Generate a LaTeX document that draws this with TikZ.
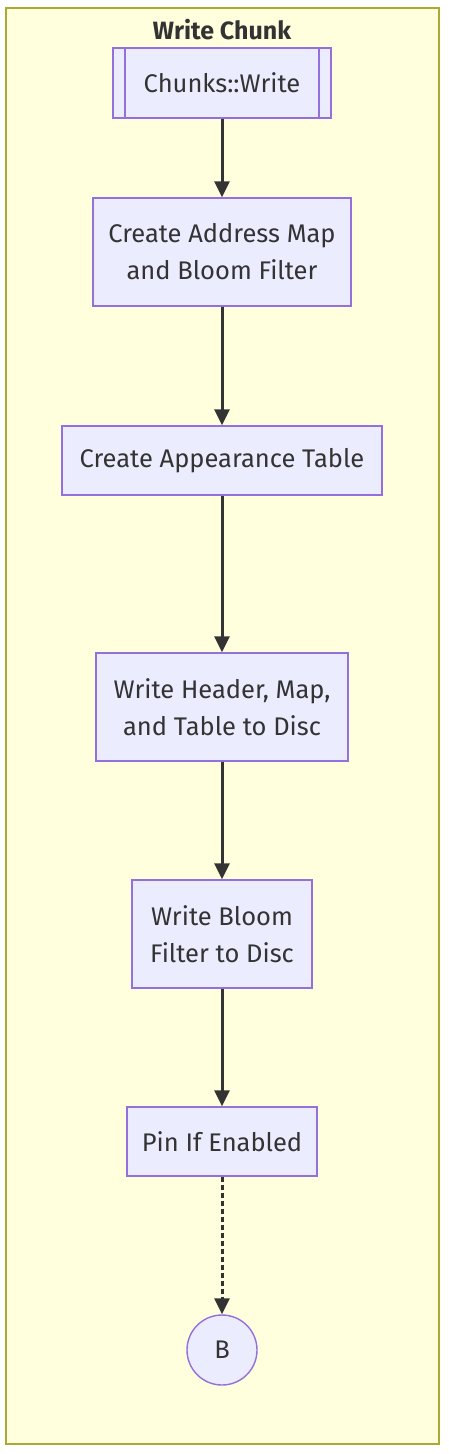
\documentclass[tikz,border=0pt]{standalone}
\usepackage{fontspec}
\setmainfont{Fira Sans}
\usetikzlibrary{arrows.meta}
\definecolor{boxfill}{HTML}{ECECFF}
\definecolor{boxline}{HTML}{9370DB}
\definecolor{clfill}{HTML}{FFFFDE}
\definecolor{clline}{HTML}{AAAA33}
\definecolor{txt}{HTML}{333333}
\tikzset{
  stepbox/.style={draw=boxline, fill=boxfill, line width=1.4pt, text=txt, align=center, inner sep=0pt, font=\fontsize{25.5}{37}\selectfont},
  flow/.style={draw=txt, line width=3pt, -{Triangle[length=16pt,width=15pt]}},
}
\begin{document}
\begin{tikzpicture}[x=1pt,y=-1pt]
\useasboundingbox (0,0) rectangle (448,1454);
\draw[clline, fill=clfill, line width=1.3pt] (6,8) rectangle (439,1444);
\node[text=txt, font=\bfseries\fontsize{25}{28}\selectfont] (title) at (222,30) {Write Chunk};
\node[stepbox, minimum width=218pt, minimum height=70pt] (cw) at (222,83) {Chunks::Write};
\draw[boxline, line width=1.4pt] (125,48) -- (125,118) (319,48) -- (319,118);
\node[stepbox, minimum width=258pt, minimum height=108pt] (addr) at (222,252) {Create Address Map\\and Bloom Filter};
\node[stepbox, minimum width=320pt, minimum height=69pt] (app) at (222,460.5) {Create Appearance Table};
\node[stepbox, minimum width=252pt, minimum height=108pt] (hdr) at (222,707) {Write Header, Map,\\and Table to Disc};
\node[stepbox, minimum width=180pt, minimum height=108pt] (bloom) at (222,934) {Write Bloom\\Filter to Disc};
\node[stepbox, minimum width=190pt, minimum height=69pt] (pin) at (222,1141.5) {Pin If Enabled};
\node[stepbox, circle, minimum size=70pt] (b) at (222,1350) {B};
\draw[flow] (cw) -- (addr);
\draw[flow] (addr) -- (app);
\draw[flow] (app) -- (hdr);
\draw[flow] (hdr) -- (bloom);
\draw[flow] (bloom) -- (pin);
\draw[flow, dash pattern=on 5pt off 3pt] (pin) -- (b);
\end{tikzpicture}
\end{document}
